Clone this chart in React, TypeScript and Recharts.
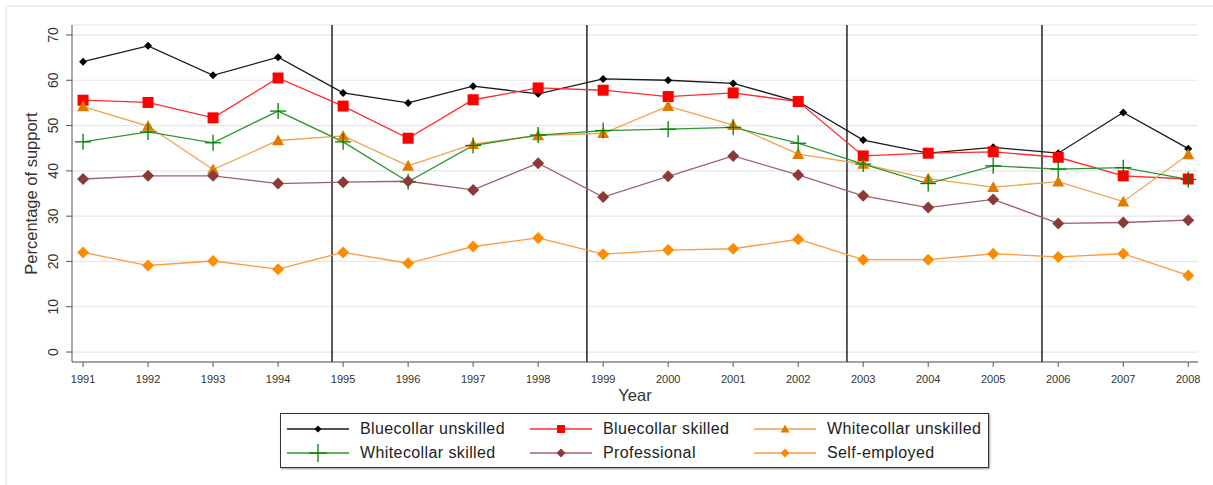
import { CartesianGrid, Line, LineChart, ReferenceLine, XAxis, YAxis } from "recharts";

const years = [1991, 1992, 1993, 1994, 1995, 1996, 1997, 1998, 1999, 2000, 2001, 2002, 2003, 2004, 2005, 2006, 2007, 2008];

const bluecollarUnskilled = [64.1, 67.6, 61.1, 65.1, 57.2, 55.0, 58.7, 57.0, 60.3, 60.0, 59.3, 55.3, 46.8, 43.9, 45.2, 43.9, 52.9, 44.9];
const bluecollarSkilled = [55.6, 55.1, 51.7, 60.5, 54.3, 47.2, 55.7, 58.3, 57.8, 56.4, 57.2, 55.3, 43.3, 43.9, 44.2, 43.0, 38.9, 38.2];
const whitecollarUnskilled = [54.2, 49.9, 40.3, 46.7, 47.7, 41.1, 45.9, 47.8, 48.3, 54.3, 50.1, 43.7, 41.5, 38.3, 36.4, 37.6, 33.2, 43.6];
const whitecollarSkilled = [46.4, 48.6, 46.2, 53.2, 46.4, 37.6, 45.6, 47.9, 48.9, 49.2, 49.6, 46.1, 41.5, 37.2, 41.1, 40.4, 40.7, 38.1];
const professional = [38.2, 38.9, 38.9, 37.2, 37.5, 37.7, 35.8, 41.7, 34.2, 38.8, 43.3, 39.1, 34.5, 31.9, 33.7, 28.4, 28.6, 29.1];
const selfEmployed = [22.0, 19.1, 20.1, 18.3, 22.0, 19.6, 23.3, 25.2, 21.6, 22.5, 22.8, 24.9, 20.4, 20.4, 21.7, 21.0, 21.7, 16.9];

const yTicks = [0, 10, 20, 30, 40, 50, 60, 70];
const breakYears = [1994.83, 1998.75, 2002.75, 2005.75];

type Shape = "diamond" | "square" | "triangle" | "plus";

const series = [
  { key: "bu", name: "Bluecollar unskilled", values: bluecollarUnskilled, line: "#1a1a1a", mark: "#000000", shape: "diamond" as Shape, size: 8 },
  { key: "bs", name: "Bluecollar skilled", values: bluecollarSkilled, line: "#ff2a2a", mark: "#ff0000", shape: "square" as Shape, size: 11 },
  { key: "wu", name: "Whitecollar unskilled", values: whitecollarUnskilled, line: "#f0a24a", mark: "#e07b00", shape: "triangle" as Shape, size: 12 },
  { key: "ws", name: "Whitecollar skilled", values: whitecollarSkilled, line: "#2f962f", mark: "#008000", shape: "plus" as Shape, size: 16 },
  { key: "pr", name: "Professional", values: professional, line: "#a0606a", mark: "#8b3a3a", shape: "diamond" as Shape, size: 12 },
  { key: "se", name: "Self-employed", values: selfEmployed, line: "#ff9a3a", mark: "#ff8c00", shape: "diamond" as Shape, size: 12 },
];

const data = years.map((year, i) => {
  const row: Record<string, number> = { year };
  series.forEach((s) => {
    row[s.key] = s.values[i];
  });
  return row;
});

function Marker({ cx, cy, shape, size, color }: { cx: number; cy: number; shape: Shape; size: number; color: string }) {
  const h = size / 2;
  if (shape === "square") return <rect x={cx - h} y={cy - h} width={size} height={size} fill={color} />;
  if (shape === "triangle")
    return <polygon points={`${cx},${cy - h} ${cx + h},${cy + h * 0.8} ${cx - h},${cy + h * 0.8}`} fill={color} />;
  if (shape === "plus")
    return (
      <g stroke={color} strokeWidth={1.3}>
        <line x1={cx - h} y1={cy} x2={cx + h} y2={cy} />
        <line x1={cx} y1={cy - h} x2={cx} y2={cy + h} />
      </g>
    );
  return <polygon points={`${cx},${cy - h} ${cx + h},${cy} ${cx},${cy + h} ${cx - h},${cy}`} fill={color} />;
}

const YTick = (props: any) => {
  const { x, y, payload } = props;
  const bx = x - 6;
  return (
    <text
      x={bx}
      y={y}
      transform={`rotate(-90 ${bx} ${y})`}
      textAnchor="middle"
      fontSize={14}
      fill="#333"
      fontFamily="Liberation Sans, Arial, sans-serif"
    >
      {payload.value}
    </text>
  );
};

const colWidths = [243, 224, 235];

export default function App() {
  return (
    <div style={{ position: "absolute", left: 0, top: 0, width: 1213, height: 485, background: "#fff", fontFamily: "Liberation Sans, Arial, sans-serif" }}>
      <div style={{ position: "absolute", left: 5, top: 5, width: 1210, height: 480, borderTop: "2px solid #eee", borderLeft: "2px solid #eee" }} />
      <LineChart width={1213} height={485} data={data} margin={{ top: 25, right: 15, left: 0, bottom: 93 }}>
        <CartesianGrid vertical={false} stroke="#e6e6e6" strokeWidth={1.2} />
        <XAxis
          dataKey="year"
          type="number"
          domain={[1990.83, 2008.15]}
          ticks={years}
          allowDataOverflow
          height={30}
          tickSize={5}
          tickMargin={8}
          stroke="#555"
          tick={{ fontSize: 11, fill: "#333" }}
          label={{ value: "Year", position: "insideBottom", offset: -9, fontSize: 16.5, fill: "#333" }}
        />
        <YAxis
          type="number"
          domain={[-2.2, 72.2]}
          ticks={yTicks}
          allowDataOverflow
          width={72}
          tickSize={6}
          stroke="#555"
          tick={<YTick />}
          label={{ value: "Percentage of support", angle: -90, position: "insideLeft", offset: 31, fontSize: 16.5, fill: "#333", style: { textAnchor: "middle" } }}
        />
        {breakYears.map((b) => (
          <ReferenceLine key={b} x={b} stroke="#222" strokeWidth={1.5} />
        ))}
        {series.map((s) => (
          <Line
            key={s.key}
            dataKey={s.key}
            name={s.name}
            type="linear"
            stroke={s.line}
            strokeWidth={1.3}
            isAnimationActive={false}
            activeDot={false}
            dot={(p: any) => <Marker key={`${s.key}-${p.index}`} cx={p.cx} cy={p.cy} shape={s.shape} size={s.size} color={s.mark} />}
          />
        ))}
      </LineChart>
      <div style={{ position: "absolute", left: 280, top: 413, width: 709, height: 55, boxSizing: "border-box", border: "1.5px solid #333", boxShadow: "1px 1px 2px #999", display: "flex", flexWrap: "wrap", alignContent: "center", rowGap: 4 }}>
        {series.map((s, i) => (
          <div key={s.key} style={{ width: colWidths[i % 3], flex: "none", display: "flex", alignItems: "center", height: 20 }}>
            <svg width={62} height={20} style={{ marginLeft: 6, flex: "none" }}>
              <line x1={0} y1={10} x2={62} y2={10} stroke={s.line} strokeWidth={1.3} />
              <Marker cx={31} cy={10} shape={s.shape} size={s.shape === "plus" ? 18 : s.shape === "diamond" && s.size < 10 ? s.size - 1 : s.size - 3} color={s.mark} />
            </svg>
            <span style={{ marginLeft: 11, fontSize: 16, letterSpacing: 0.4, color: "#222", whiteSpace: "nowrap" }}>{s.name}</span>
          </div>
        ))}
      </div>
    </div>
  );
}
